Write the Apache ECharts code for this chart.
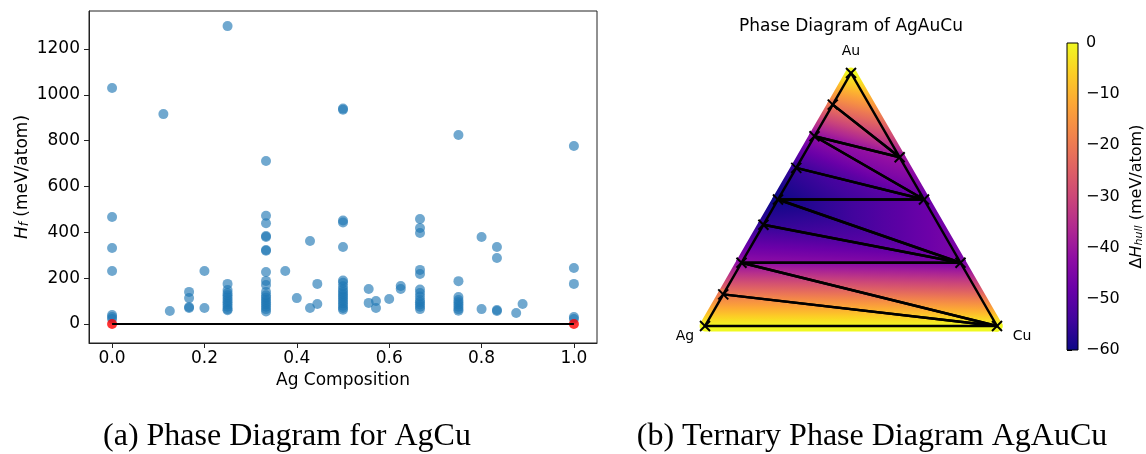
<!DOCTYPE html>
<html>
<head>
<meta charset="utf-8">
<script src="https://cdn.jsdelivr.net/npm/echarts@6/dist/echarts.min.js"></script>
<style>
html, body { margin: 0; padding: 0; background: #fff; }
#main { width: 1146px; height: 454px; }
</style>
</head>
<body>
<div id="main"></div>
<script>
// (a) AgCu: Ag fraction of each column and the formation energies found there (meV/atom)
var agColumns = [0, 0.1111, 0.125, 0.1667, 0.2, 0.25, 0.3333, 0.375, 0.4, 0.4286, 0.4444, 0.5,
                 0.5556, 0.5714, 0.6, 0.625, 0.6667, 0.75, 0.8, 0.8333, 0.875, 0.8889, 1.0];
var formEnergy = [
  [1030, 467, 332, 231, 39, 30, 22],
  [916],
  [57],
  [140, 113, 74, 70],
  [231, 70],
  [1300, 175, 148, 135, 125, 115, 105, 95, 85, 75, 65, 60],
  [711, 472, 440, 384, 380, 323, 320, 227, 188, 170, 140, 125, 115, 105, 95, 85, 75, 65, 55],
  [231],
  [113],
  [362, 70],
  [175, 87],
  [940, 935, 452, 443, 336, 190, 180, 165, 150, 140, 130, 120, 110, 100, 90, 80, 70, 62],
  [153, 92],
  [100, 70],
  [109],
  [166, 153],
  [458, 419, 397, 236, 218, 150, 135, 120, 105, 95, 85, 75, 65],
  [825, 187, 118, 105, 95, 85, 75, 65, 58],
  [380, 65],
  [336, 288, 61, 57],
  [48],
  [87],
  [777, 244, 175, 30, 22]
];
var hullComp = [0, 1];
var hullE = [0, 0];
var xTicks = [0, 0.2, 0.4, 0.6, 0.8, 1.0];
var yTicks = [0, 200, 400, 600, 800, 1000, 1200];

// (b) AgAuCu: stable phases (fractions of Au and Cu, rest Ag) and their hull energy
var phaseAu = [0, 0.125, 0.25, 0.4, 0.5, 0.625, 0.75, 0.875, 1, 0.6667, 0.5, 0.25, 0];
var phaseCu = [0, 0, 0, 0, 0, 0, 0, 0, 0, 0.3333, 0.5, 0.75, 1];
var phaseE  = [0, -20, -42, -56, -60, -55, -42, -20, 0, -40, -48, -45, 0];
// hull facets, as indices into the phase arrays
var facets = [
  [8, 7, 9], [7, 6, 9], [6, 9, 10], [6, 5, 10], [5, 4, 10], [4, 10, 11],
  [4, 3, 11], [3, 2, 11], [2, 11, 12], [2, 1, 12], [1, 0, 12]
];
var cMin = -60, cMax = 0;

var plasma = ['#0d0887', '#41049d', '#6a00a8', '#8f0da4', '#b12a90', '#cc4778',
              '#e16462', '#f2844b', '#fca636', '#fcce25', '#f0f921'];

function hex(h) {
  return [parseInt(h.substr(1, 2), 16), parseInt(h.substr(3, 2), 16), parseInt(h.substr(5, 2), 16)];
}
function plasmaAt(v) {
  var t = Math.max(0, Math.min(1, (v - cMin) / (cMax - cMin)));
  var f = t * (plasma.length - 1);
  var i = Math.min(Math.floor(f), plasma.length - 2), r = f - i;
  var a = hex(plasma[i]), b = hex(plasma[i + 1]);
  return 'rgb(' + [0, 1, 2].map(function (k) { return Math.round(a[k] + (b[k] - a[k]) * r); }).join(',') + ')';
}
function ternXY(i) {
  return [phaseCu[i] + phaseAu[i] / 2, phaseAu[i] * Math.sqrt(3) / 2];
}
// energy is linear on each facet -> one linear gradient along its steepest direction
function facetFill(pts, vals) {
  var d1x = pts[1][0] - pts[0][0], d1y = pts[1][1] - pts[0][1];
  var d2x = pts[2][0] - pts[0][0], d2y = pts[2][1] - pts[0][1];
  var dv1 = vals[1] - vals[0], dv2 = vals[2] - vals[0];
  var det = d1x * d2y - d2x * d1y;
  var a = (dv1 * d2y - dv2 * d1y) / det, b = (d1x * dv2 - d2x * dv1) / det;
  var g2 = a * a + b * b;
  var lo = Math.min.apply(null, vals), hi = Math.max.apply(null, vals);
  if (g2 < 1e-12 || hi - lo < 1e-9) return plasmaAt(lo);
  var k = vals.indexOf(lo), sx = pts[k][0], sy = pts[k][1], s = (hi - lo) / g2;
  var stops = [];
  for (var n = 0; n <= 12; n++) stops.push({ offset: n / 12, color: plasmaAt(lo + (hi - lo) * n / 12) });
  return new echarts.graphic.LinearGradient(sx, sy, sx + a * s, sy + b * s, stops, true);
}
function facetPoly(params, api, mode) {
  var f = facets[params.dataIndex];
  var pts = f.map(function (k) { return api.coord(ternXY(k)); });
  var vals = f.map(function (k) { return phaseE[k]; });
  var style;
  if (mode === 'spill') {
    style = { fill: 'none', stroke: facetFill(pts, vals), lineWidth: 11, lineJoin: 'round' };
  } else if (mode === 'fill') {
    style = { fill: facetFill(pts, vals), stroke: facetFill(pts, vals), lineWidth: 0.8 };
  } else {
    style = { fill: 'none', stroke: '#000', lineWidth: 2.5, lineJoin: 'round' };
  }
  return { type: 'polygon', shape: { points: pts }, style: style };
}

var scatterData = [];
agColumns.forEach(function (x, i) {
  formEnergy[i].forEach(function (e) { scatterData.push([x, e]); });
});
var hullData = hullComp.map(function (x, i) { return [x, hullE[i]]; });
var phaseData = phaseAu.map(function (au, i) { return ternXY(i); });

var cap = { fontFamily: 'Liberation Serif', fontSize: 32, fontWeight: 'normal', color: '#000' };
var vtx = { fontFamily: 'DejaVu Sans', fontSize: 14, fontWeight: 'normal', color: '#000' };

var chart = echarts.init(document.getElementById('main'));
chart.setOption({
  animation: false,
  backgroundColor: '#fff',
  title: [
    { text: 'Phase Diagram of AgAuCu', left: 851, top: 18, textAlign: 'center', padding: 0,
      textStyle: { fontFamily: 'DejaVu Sans', fontSize: 17, fontWeight: 'normal', color: '#000' } },
    { text: 'Au', left: 851, top: 44, textAlign: 'center', padding: 0, textStyle: vtx },
    { text: 'Ag', left: 685, top: 329, textAlign: 'center', padding: 0, textStyle: vtx },
    { text: 'Cu', left: 1022, top: 329, textAlign: 'center', padding: 0, textStyle: vtx },
    { text: '(a) Phase Diagram for AgCu', left: 287, top: 421, textAlign: 'center', padding: 0, textStyle: cap },
    { text: '(b) Ternary Phase Diagram AgAuCu', left: 872, top: 421, textAlign: 'center', padding: 0, textStyle: cap }
  ],
  grid: [
    { left: 89, top: 11, width: 508, height: 332, show: true, borderColor: '#222', borderWidth: 1 },
    { left: 705, top: 73, width: 292, height: 253 },
    { left: 1067, top: 43, width: 16, height: 307 }
  ],
  xAxis: [
    { gridIndex: 0, type: 'value', min: -0.05, max: 1.05,
      name: 'Ag Composition', nameLocation: 'middle', nameGap: 28,
      nameTextStyle: { fontFamily: 'DejaVu Sans', fontSize: 17, color: '#000' },
      axisLine: { show: true, onZero: false, lineStyle: { color: '#222' } },
      axisTick: { show: true, length: 5, customValues: xTicks, lineStyle: { color: '#222' } },
      axisLabel: { customValues: xTicks, margin: 7, fontFamily: 'DejaVu Sans', fontSize: 17, color: '#000',
        formatter: function (v) { return v.toFixed(1); } },
      splitLine: { show: false } },
    { gridIndex: 1, type: 'value', min: 0, max: 1, show: false },
    { gridIndex: 2, type: 'value', min: 0, max: 1, show: false }
  ],
  yAxis: [
    { gridIndex: 0, type: 'value', min: -83, max: 1366,
      name: '{i|H}{s|f}{n| (meV/atom)}', nameLocation: 'middle', nameGap: 58, nameRotate: 90,
      nameTextStyle: { fontFamily: 'DejaVu Sans', fontSize: 17, color: '#000',
        rich: {
          i: { fontFamily: 'DejaVu Sans', fontSize: 17, fontStyle: 'italic', verticalAlign: 'bottom', lineHeight: 22 },
          s: { fontFamily: 'DejaVu Sans', fontSize: 12, fontStyle: 'italic', verticalAlign: 'bottom', lineHeight: 12 },
          n: { fontFamily: 'DejaVu Sans', fontSize: 17, verticalAlign: 'bottom', lineHeight: 22 }
        } },
      axisLine: { show: true, onZero: false, lineStyle: { color: '#222' } },
      axisTick: { show: true, length: 5, customValues: yTicks, lineStyle: { color: '#222' } },
      axisLabel: { customValues: yTicks, margin: 9, fontFamily: 'DejaVu Sans', fontSize: 17, color: '#000',
        formatter: function (v) { return String(v); } },
      splitLine: { show: false } },
    { gridIndex: 1, type: 'value', min: 0, max: Math.sqrt(3) / 2, show: false },
    { gridIndex: 2, type: 'value', min: cMin, max: cMax, interval: 10, position: 'right',
      name: '{d|\u0394}{i|H}{s|hull}{d| (meV/atom)}', nameLocation: 'middle', nameGap: 46, nameRotate: 90,
      nameTextStyle: { fontFamily: 'DejaVu Sans', fontSize: 16, color: '#000',
        rich: {
          d: { fontFamily: 'DejaVu Sans', fontSize: 16, verticalAlign: 'bottom', lineHeight: 21 },
          i: { fontFamily: 'DejaVu Sans', fontSize: 16, fontStyle: 'italic', verticalAlign: 'bottom', lineHeight: 21 },
          s: { fontFamily: 'DejaVu Sans', fontSize: 11, fontStyle: 'italic', verticalAlign: 'bottom', lineHeight: 11 }
        } },
      axisLine: { show: false },
      axisTick: { show: true, length: 5, lineStyle: { color: '#000' } },
      axisLabel: { margin: 8, fontFamily: 'DejaVu Sans', fontSize: 16, color: '#000',
        formatter: function (v) { return v < 0 ? '\u2212' + Math.abs(v) : String(v); } },
      splitLine: { show: false } }
  ],
  series: [
    { type: 'scatter', xAxisIndex: 0, yAxisIndex: 0, data: scatterData, symbolSize: 10,
      itemStyle: { color: 'rgba(31,119,180,0.8)' } },
    { type: 'line', xAxisIndex: 0, yAxisIndex: 0, data: hullData, showSymbol: false,
      lineStyle: { color: '#000', width: 2 } },
    { type: 'scatter', xAxisIndex: 0, yAxisIndex: 0, data: hullData, symbolSize: 10,
      itemStyle: { color: '#ff0000' } },
    { type: 'custom', xAxisIndex: 1, yAxisIndex: 1, data: facets,
      renderItem: function (p, api) { return facetPoly(p, api, 'spill'); } },
    { type: 'custom', xAxisIndex: 1, yAxisIndex: 1, data: facets,
      renderItem: function (p, api) { return facetPoly(p, api, 'fill'); } },
    { type: 'custom', xAxisIndex: 1, yAxisIndex: 1, data: facets,
      renderItem: function (p, api) { return facetPoly(p, api, 'edge'); } },
    { type: 'custom', xAxisIndex: 1, yAxisIndex: 1, data: phaseData,
      renderItem: function (params, api) {
        var c = api.coord([api.value(0), api.value(1)]), h = 5;
        return { type: 'group', children: [
          { type: 'line', shape: { x1: c[0] - h, y1: c[1] - h, x2: c[0] + h, y2: c[1] + h }, style: { stroke: '#000', lineWidth: 2 } },
          { type: 'line', shape: { x1: c[0] - h, y1: c[1] + h, x2: c[0] + h, y2: c[1] - h }, style: { stroke: '#000', lineWidth: 2 } }
        ] };
      } },
    { type: 'custom', xAxisIndex: 2, yAxisIndex: 2, data: [[0, cMin]],
      renderItem: function (params, api) {
        var p0 = api.coord([0, cMin]), p1 = api.coord([1, cMax]);
        var stops = plasma.map(function (c, i) { return { offset: i / (plasma.length - 1), color: c }; });
        return { type: 'rect', shape: { x: p0[0], y: p1[1], width: p1[0] - p0[0], height: p0[1] - p1[1] },
          style: { fill: new echarts.graphic.LinearGradient(0, 1, 0, 0, stops), stroke: '#000', lineWidth: 1 } };
      } }
  ]
});
</script>
</body>
</html>
